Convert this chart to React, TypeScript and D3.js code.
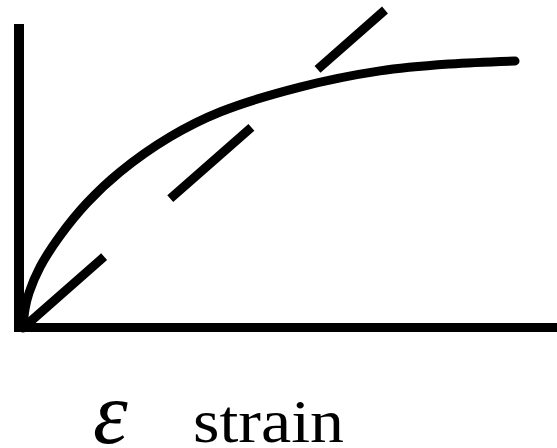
import React from "react";
import * as d3 from "d3";

const curveX = [0, 0.04, 0.12, 0.34, 0.74, 1.28, 1.94, 2.94, 3.94, 5.54, 7.14, 8.54, 9.84];
const curveY = [0, 0.63, 1.17, 2.03, 3.07, 4.17, 5.2, 6.37, 7.2, 8.03, 8.57, 8.8, 8.9];
const lineX = [0, 7.24];
const lineY = [0, 10.6];
const symbolLabel = "ε";
const axisLabel = "strain";

const W = 557;
const H = 448;

export default function App() {
  const x = d3.scaleLinear().domain([0, 10]).range([23, 523]);
  const y = d3.scaleLinear().domain([0, 10]).range([328, 28]);

  const curvePts: [number, number][] = curveX.map((v, i) => [v, curveY[i]]);
  const linePts: [number, number][] = lineX.map((v, i) => [v, lineY[i]]);

  const curveGen = d3
    .line<[number, number]>()
    .x((d) => x(d[0]))
    .y((d) => y(d[1]))
    .curve(d3.curveCatmullRom.alpha(0.5));
  const lineGen = d3
    .line<[number, number]>()
    .x((d) => x(d[0]))
    .y((d) => y(d[1]));

  return (
    <svg
      width={W}
      height={H}
      style={{ position: "absolute", left: 0, top: 0, background: "#fff" }}
    >
      <line x1={19} y1={24} x2={19} y2={332} stroke="#000" strokeWidth={10} />
      <line x1={14} y1={327.5} x2={557} y2={327.5} stroke="#000" strokeWidth={9} />
      <path
        d={lineGen(linePts) || ""}
        fill="none"
        stroke="#000"
        strokeWidth={9}
        strokeDasharray="108 88"
      />
      <path
        d={curveGen(curvePts) || ""}
        fill="none"
        stroke="#000"
        strokeWidth={9}
        strokeLinecap="round"
      />
      <text
        x={93}
        y={443}
        fontFamily="'Liberation Serif', 'Times New Roman', serif"
        fontStyle="italic"
        fontSize={88}
        fill="#000"
      >
        {symbolLabel}
      </text>
      <text
        x={193}
        y={442}
        fontFamily="'Liberation Serif', 'Times New Roman', serif"
        fontSize={62}
        textLength={151}
        lengthAdjust="spacingAndGlyphs"
        fill="#000"
      >
        {axisLabel}
      </text>
    </svg>
  );
}
